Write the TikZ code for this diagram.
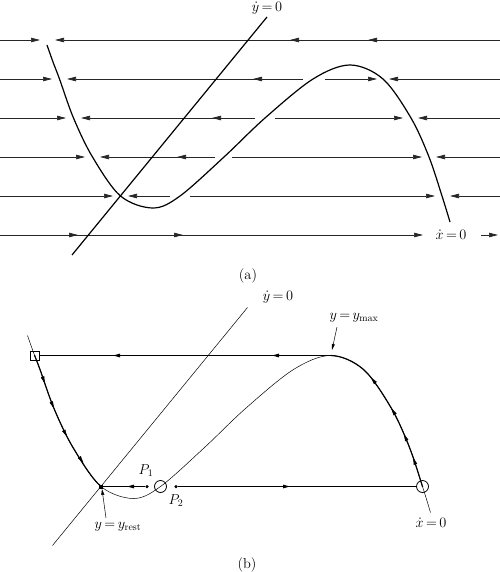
\documentclass[tikz,border=0pt]{standalone}
\usetikzlibrary{arrows.meta,decorations.markings}
\newcommand{\cubiccurve}[1]{\draw[#1] plot[smooth,tension=0.55] coordinates {(47,45) (53,62) (59.5,79) (73.5,118) (92.5,157) (120.5,196) (153,208) (180,196) (224,157) (265,118) (313,79) (350,65) (383,79) (411,118) (429,157) (442,196) (450,222)};}
\newcommand{\midL}[2]{\draw[row,tipA] (#1+8,#2) -- (#1,#2);}
\newcommand{\midR}[2]{\draw[row,tipA] (#1-8,#2) -- (#1,#2);}
\newcommand{\bmidL}[2]{\draw[thickln,tipB] (#1+6,#2) -- (#1,#2);}
\newcommand{\bmidR}[2]{\draw[thickln,tipB] (#1-6,#2) -- (#1,#2);}
\newcommand{\eqs}{\mkern-2mu=\mkern-2mu}
\begin{document}
\begin{tikzpicture}[x=1bp,y=-1bp,
  row/.style={line width=0.7bp,black!85},
  tipA/.style={-{Triangle[length=9bp,width=4.5bp]}},
  tipB/.style={-{Triangle[length=7bp,width=3.5bp]}},
  tipC/.style={-{Triangle[length=6bp,width=3bp]}},
  thickln/.style={line width=1.2bp,black},
  thinln/.style={line width=0.5bp,black},
  lbl/.style={font=\fontsize{14.5}{17}\selectfont,inner sep=0pt}]
\useasboundingbox (0,0) rectangle (500,572);

% ---------- panel (a) ----------
% row 1
\draw[row,tipA] (0,40) -- (40,40);
\draw[row,tipA] (500,40) -- (55,40);
\midL{290}{40} \midL{368}{40}
% row 2
\draw[row,tipA] (0,79) -- (52,79);
\draw[row,tipA] (303,79) -- (67,79);
\midL{253}{79}
\draw[row,tipA] (325,79) -- (377,79);
\draw[row,tipA] (500,79) -- (389,79);
% row 3
\draw[row,tipA] (0,118) -- (66,118);
\draw[row,tipA] (255,118) -- (81,118);
\midL{212}{118}
\draw[row,tipA] (275,118) -- (403,118);
\draw[row,tipA] (500,118) -- (418,118);
% row 4
\draw[row,tipA] (0,157) -- (85,157);
\draw[row,tipA] (215,157) -- (100,157);
\midL{177}{157}
\draw[row,tipA] (232,157) -- (422,157);
\draw[row,tipA] (500,157) -- (436,157);
% row 5
\draw[row,tipA] (0,196) -- (113,196);
\draw[row,tipA] (170,196) -- (128,196);
\draw[row,tipA] (190,196) -- (435,196);
\draw[row,tipA] (500,196) -- (450,196);
% row 6
\draw[row,tipA] (0,235) -- (423,235);
\midR{78}{235} \midR{183}{235}
\draw[row,tipA] (481,235) -- (498,235);

% nullclines
\draw[thickln] (267,17) -- (72,255);
\cubiccurve{thickln}
\node[lbl] (ydotA) at (267,8) {$\dot y\eqs 0$};
\node[lbl] (xdotA) at (451,235) {$\dot x\eqs 0$};
\node[lbl] (capA) at (248,276) {(a)};

% ---------- panel (b) ----------
\begin{scope}[shift={(-19.5,290.5)}]
  \draw[thinln] (267,17) -- (72,255);
  \cubiccurve{thinln}
  \begin{scope}
    \clip (0,65) rectangle (120.5,200);
    \cubiccurve{thickln}
  \end{scope}
  \begin{scope}
    \clip (350,0) rectangle (500,196);
    \cubiccurve{thickln}
  \end{scope}
  % arrows along the branches
  \path[decoration={markings,
      mark=at position 0.20 with {\arrow{Triangle[length=7bp,width=3.5bp]}},
      mark=at position 0.38 with {\arrow{Triangle[length=7bp,width=3.5bp]}},
      mark=at position 0.59 with {\arrow{Triangle[length=7bp,width=3.5bp]}},
      mark=at position 0.80 with {\arrow{Triangle[length=7bp,width=3.5bp]}}},decorate]
    plot[smooth,tension=0.55] coordinates {(54.5,65) (59.5,79) (73.5,118) (92.5,157) (120.5,196)};
  \path[decoration={markings,
      mark=at position 0.18 with {\arrow{Triangle[length=7bp,width=3.5bp]}},
      mark=at position 0.33 with {\arrow{Triangle[length=7bp,width=3.5bp]}},
      mark=at position 0.50 with {\arrow{Triangle[length=7bp,width=3.5bp]}},
      mark=at position 0.72 with {\arrow{Triangle[length=7bp,width=3.5bp]}}},decorate]
    plot[smooth,tension=0.55] coordinates {(442,196) (429,157) (411,118) (383,79) (350,65)};
  % special points
  \coordinate (sq) at (54.5,65);
  \coordinate (ymax) at (350,65);
  \coordinate (rest) at (120.5,196);
  \node[draw,line width=0.7bp,minimum size=9bp,inner sep=0pt] (sqn) at (sq) {};
  \node[circle,draw,line width=0.8bp,minimum size=12bp,inner sep=0pt] (cP) at (180,196) {};
  \node[circle,draw,line width=0.8bp,minimum size=12bp,inner sep=0pt] (cR) at (442,196) {};
  \node[fill,minimum size=4bp,inner sep=0pt] (restn) at (rest) {};
  \node[circle,fill,minimum size=3.5bp,inner sep=0pt] (p1) at (166.5,196) {};
  \node[circle,fill,minimum size=3.5bp,inner sep=0pt] (p2) at (195.5,196) {};
  % fast jumps
  \draw[thickln] (sqn.east) -- (ymax);
  \bmidL{132.5}{65} \bmidL{291.5}{65}
  \draw[thickln] (p2) -- (cR.west);
  \bmidR{309.5}{196}
  \draw[thickln] (restn) -- (p1);
  \bmidL{146.5}{196}
\end{scope}

\node[lbl] (ydotB) at (278,297) {$\dot y\eqs 0$};
\node[lbl] (ymaxl) at (354,318) {$y\eqs y_{\mathrm{max}}$};
\coordinate (ymaxfrom) at (337,327);
\coordinate (ymaxtip) at (332,350);
\draw[thinln,tipC] (ymaxfrom) -- (ymaxtip);
\node[lbl] (P1l) at (146,471) {$P_1$};
\node[lbl] (P2l) at (176,501) {$P_2$};
\node[lbl] (restl) at (118,527) {$y\eqs y_{\mathrm{rest}}$};
\coordinate (resttip) at (102,489);
\coordinate (restfrom) at (106,518);
\draw[thinln,tipC] (restfrom) -- (resttip);
\node[lbl] (xdotB) at (431,523) {$\dot x\eqs 0$};
\node[lbl] (capB) at (247,565) {(b)};
\end{tikzpicture}
\end{document}
